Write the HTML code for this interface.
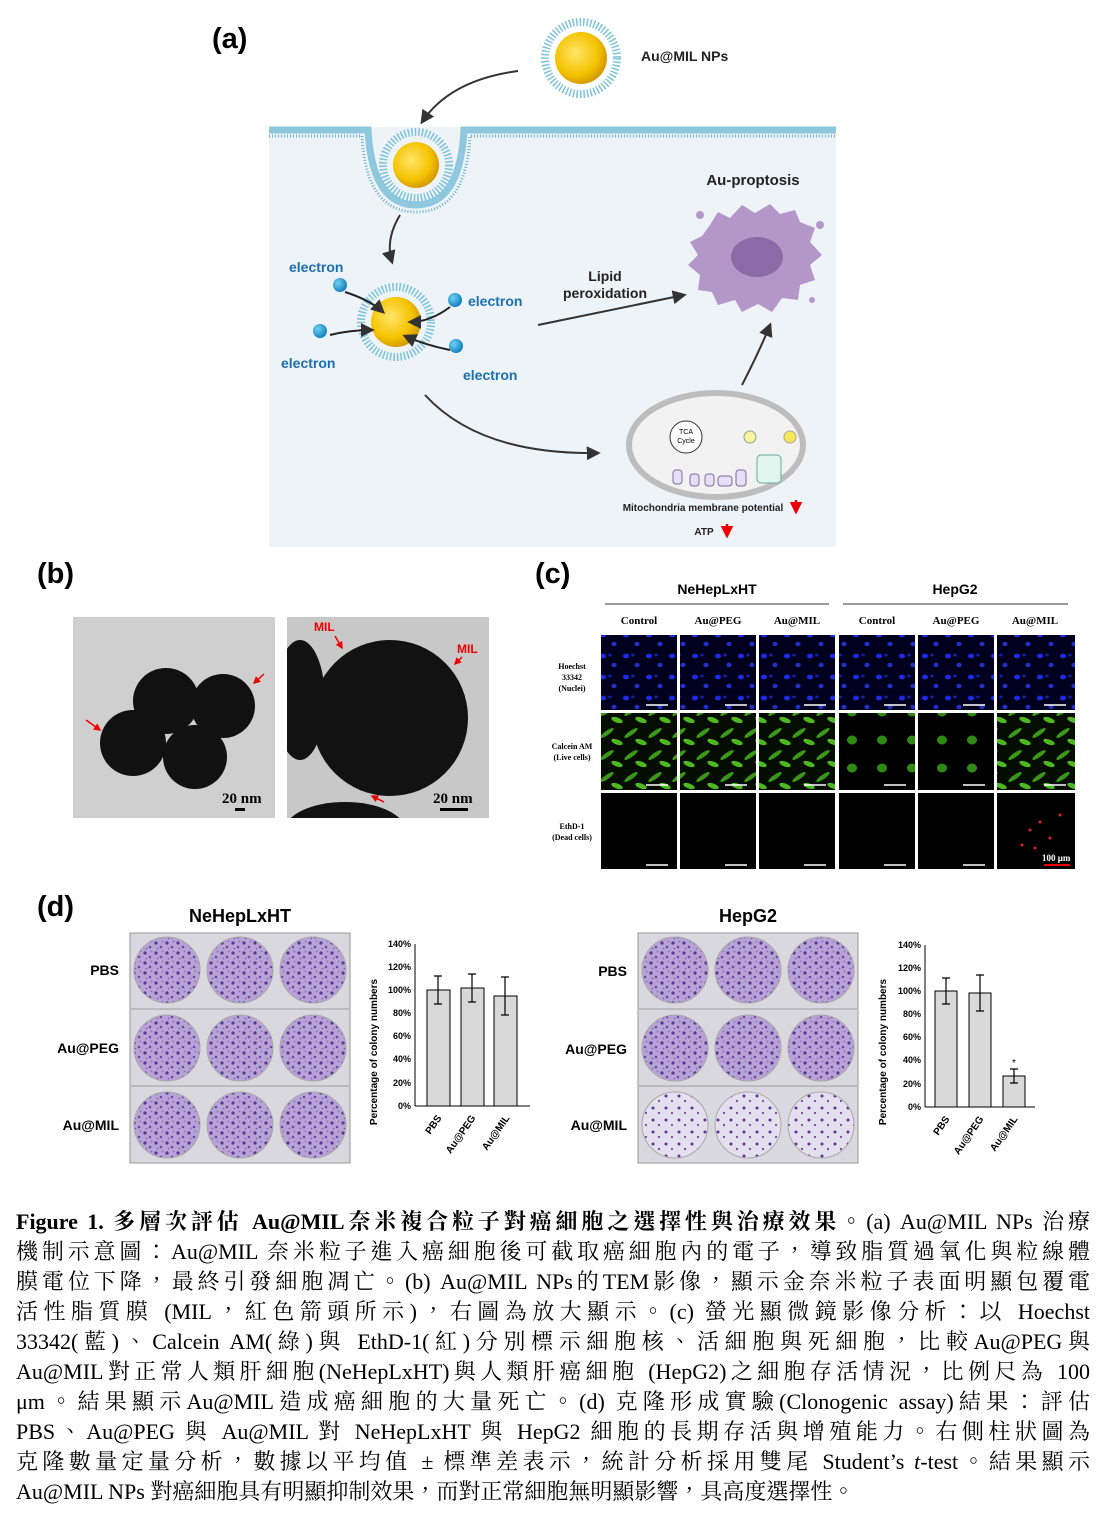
<!DOCTYPE html>
<html><head><meta charset="utf-8">
<style>
html,body{margin:0;padding:0;background:#fff;}
svg{display:block;}
.b{font-family:"Liberation Sans",sans-serif;font-weight:bold;}
.s{font-family:"Liberation Serif","Noto Serif CJK TC",serif;}
#cap{position:absolute;left:16px;top:1207px;width:1074px;font-family:"Liberation Serif","Noto Serif CJK TC",serif;font-size:22px;line-height:30px;color:#000;}
#cap div{text-align:justify;text-align-last:justify;white-space:nowrap;height:30px;}
#cap div.l{text-align-last:left;}
</style></head><body>
<svg width="1106" height="1522" viewBox="0 0 1106 1522" xmlns="http://www.w3.org/2000/svg">
<defs>
<radialGradient id="gold" cx="0.4" cy="0.4" r="0.6"><stop offset="0" stop-color="#ffe46a"/><stop offset="0.7" stop-color="#f5c400"/><stop offset="1" stop-color="#d79d00"/></radialGradient>
<radialGradient id="eb" cx="0.35" cy="0.35" r="0.7"><stop offset="0" stop-color="#6fd0f5"/><stop offset="1" stop-color="#0f7db8"/></radialGradient>
<pattern id="col" width="11" height="10" patternUnits="userSpaceOnUse"><rect width="11" height="10" fill="#b7a3d6"/><circle cx="2" cy="3" r="1.6" fill="#5a3791"/><circle cx="7" cy="7" r="1.3" fill="#6c48a8"/><circle cx="8.5" cy="1.5" r="0.9" fill="#8a6cc0"/><circle cx="3.5" cy="8.5" r="0.8" fill="#7a58b5"/></pattern>
<pattern id="col2" width="13" height="12" patternUnits="userSpaceOnUse"><rect width="13" height="12" fill="#e3dfee"/><circle cx="3" cy="4" r="1.5" fill="#5a3791"/><circle cx="9" cy="9" r="1.1" fill="#6c48a8"/></pattern>
<pattern id="blue" width="23" height="21" patternUnits="userSpaceOnUse"><rect width="23" height="21" fill="#00001e"/><ellipse cx="5" cy="5" rx="3" ry="2.4" fill="#1a2ce8"/><ellipse cx="16" cy="14" rx="2.6" ry="2.2" fill="#2030c8"/><ellipse cx="12" cy="4" rx="1.8" ry="1.5" fill="#1420a0"/></pattern>
<pattern id="green" width="24" height="22" patternUnits="userSpaceOnUse"><rect width="24" height="22" fill="#050c02"/><ellipse cx="7" cy="7" rx="8" ry="2.2" fill="#3a9a18" transform="rotate(-35 7 7)"/><ellipse cx="17" cy="16" rx="6" ry="2.5" fill="#4eb822" transform="rotate(20 17 16)"/></pattern>
<pattern id="green2" width="30" height="28" patternUnits="userSpaceOnUse"><rect width="30" height="28" fill="#000"/><ellipse cx="12" cy="12" rx="5" ry="4.5" fill="#2f8a12"/></pattern>
<clipPath id="tc"><rect x="287" y="617" width="202" height="201"/></clipPath>
<marker id="ar" viewBox="0 0 10 10" refX="8" refY="5" markerWidth="7" markerHeight="7" orient="auto"><path d="M0,0L10,5L0,10z" fill="#333"/></marker>
<marker id="rr" viewBox="0 0 10 10" refX="8" refY="5" markerWidth="5" markerHeight="5" orient="auto"><path d="M0,0L10,5L0,10z" fill="#e00"/></marker>
</defs>

<text x="212" y="48" class="b" font-size="29">(a)</text>
<circle cx="581" cy="58" r="36" fill="none" stroke="#7cc3db" stroke-width="8" stroke-dasharray="1.5 2"/>
<circle cx="581" cy="58" r="26" fill="url(#gold)"/>
<text x="641" y="61" class="b" font-size="14" fill="#222">Au@MIL NPs</text>
<path d="M518,71 Q450,80 422,122" fill="none" stroke="#333" stroke-width="2" marker-end="url(#ar)"/>
<rect x="269" y="127" width="567" height="420" fill="#eef3f7"/>
<path d="M269,130 L368,130 Q372,205 416,205 Q460,205 464,130 L836,130" fill="none" stroke="#8fc7df" stroke-width="7"/>
<path d="M269,136 L362,136 Q366,212 416,212 Q466,212 470,136 L836,136" fill="none" stroke="#6ab2d0" stroke-width="3" stroke-dasharray="1 2"/>
<circle cx="416" cy="165" r="33" fill="none" stroke="#7cc3db" stroke-width="8" stroke-dasharray="1.5 2"/>
<circle cx="416" cy="165" r="23" fill="url(#gold)"/>
<path d="M400,215 Q385,240 392,262" fill="none" stroke="#333" stroke-width="2" marker-end="url(#ar)"/>
<circle cx="396" cy="322" r="35" fill="none" stroke="#7cc3db" stroke-width="8" stroke-dasharray="1.5 2"/>
<circle cx="396" cy="322" r="25" fill="url(#gold)"/>
<circle cx="340" cy="285" r="7" fill="url(#eb)"/><circle cx="455" cy="300" r="7" fill="url(#eb)"/>
<circle cx="320" cy="331" r="7" fill="url(#eb)"/><circle cx="456" cy="346" r="7" fill="url(#eb)"/>
<path d="M345,292 Q370,300 383,312" fill="none" stroke="#222" stroke-width="2" marker-end="url(#ar)"/>
<path d="M450,307 Q430,322 410,322" fill="none" stroke="#222" stroke-width="2" marker-end="url(#ar)"/>
<path d="M450,350 Q425,345 405,336" fill="none" stroke="#222" stroke-width="2" marker-end="url(#ar)"/>
<path d="M330,335 Q350,330 372,330" fill="none" stroke="#222" stroke-width="2" marker-end="url(#ar)"/>
<g class="b" font-size="14" fill="#1a6fb0">
<text x="289" y="272">electron</text><text x="468" y="306">electron</text>
<text x="281" y="368">electron</text><text x="463" y="380">electron</text></g>
<text x="605" y="281" class="b" font-size="14" text-anchor="middle" fill="#222">Lipid</text>
<text x="605" y="298" class="b" font-size="14" text-anchor="middle" fill="#222">peroxidation</text>
<path d="M538,325 Q610,310 684,295" fill="none" stroke="#333" stroke-width="2" marker-end="url(#ar)"/>
<text x="753" y="185" class="b" font-size="15" text-anchor="middle" fill="#222">Au-proptosis</text>
<path d="M710,225 L718,212 L730,218 L742,205 L755,213 L770,204 L780,214 L795,210 L800,222 L815,228 L810,242 L822,255 L810,265 L815,280 L800,285 L798,300 L782,298 L772,312 L758,304 L742,312 L735,300 L718,305 L712,292 L698,290 L700,275 L688,265 L698,255 L690,242 L702,236z" fill="#b497c9"/>
<ellipse cx="757" cy="257" rx="26" ry="20" fill="#8c6aa8"/>
<circle cx="700" cy="215" r="4" fill="#b497c9"/><circle cx="820" cy="225" r="4" fill="#b497c9"/><circle cx="812" cy="300" r="3" fill="#b497c9"/>
<path d="M742,385 Q760,350 770,325" fill="none" stroke="#333" stroke-width="2" marker-end="url(#ar)"/>
<path d="M425,395 Q480,455 598,453" fill="none" stroke="#333" stroke-width="2" marker-end="url(#ar)"/>
<ellipse cx="716" cy="445" rx="87" ry="52" fill="#f2f2f2" stroke="#bdbdbd" stroke-width="6"/>
<circle cx="686" cy="437" r="16" fill="#fff" stroke="#333"/><text x="686" y="434" font-size="7" text-anchor="middle" font-family="Liberation Sans">TCA</text><text x="686" y="443" font-size="7" text-anchor="middle" font-family="Liberation Sans">Cycle</text>
<circle cx="750" cy="437" r="6" fill="#f7f3a0" stroke="#8a8"/><circle cx="790" cy="437" r="6" fill="#f7e65a" stroke="#aa8"/>
<rect x="757" y="455" width="24" height="28" rx="4" fill="#dff5ee" stroke="#6a9"/>
<g fill="#e6dff5" stroke="#7a6aa0"><rect x="673" y="470" width="9" height="14" rx="3"/><rect x="690" y="474" width="9" height="12" rx="3"/><rect x="705" y="474" width="9" height="12" rx="3"/><rect x="718" y="476" width="14" height="10" rx="3"/><rect x="736" y="470" width="10" height="16" rx="3"/></g>
<text x="703" y="511" class="b" font-size="10" text-anchor="middle" fill="#222">Mitochondria membrane potential</text>
<path d="M796,500 L796,512" stroke="#e00" stroke-width="2.5" marker-end="url(#rr)"/>
<text x="704" y="535" class="b" font-size="10" text-anchor="middle" fill="#222">ATP</text>
<path d="M727,524 L727,536" stroke="#e00" stroke-width="2.5" marker-end="url(#rr)"/>

<text x="37" y="583" class="b" font-size="29">(b)</text>
<rect x="73" y="617" width="202" height="201" fill="#cfcfcf"/>
<g fill="#111"><circle cx="166" cy="701" r="33"/><circle cx="223" cy="706" r="32"/><circle cx="133" cy="743" r="33"/><circle cx="195" cy="757" r="32"/></g>
<path d="M86,720 L100,730" stroke="#e00" stroke-width="1.5" marker-end="url(#rr)"/>
<path d="M264,674 L254,683" stroke="#e00" stroke-width="1.5" marker-end="url(#rr)"/>
<text x="222" y="803" class="s" font-weight="bold" font-size="15">20 nm</text><rect x="235" y="808" width="10" height="3"/>
<g clip-path="url(#tc)">
<rect x="287" y="617" width="202" height="201" fill="#c8c8c8"/>
<circle cx="390" cy="718" r="78" fill="#121212"/>
<ellipse cx="300" cy="700" rx="25" ry="60" fill="#121212"/>
<ellipse cx="345" cy="830" rx="60" ry="28" fill="#121212"/>
</g>
<text x="314" y="631" class="b" font-size="12" fill="#e00">MIL</text><text x="457" y="653" class="b" font-size="12" fill="#e00">MIL</text>
<path d="M335,636 L342,648" stroke="#e00" stroke-width="1.5" marker-end="url(#rr)"/>
<path d="M462,657 L455,664" stroke="#e00" stroke-width="1.5" marker-end="url(#rr)"/>
<path d="M384,802 L372,796" stroke="#e00" stroke-width="1.5" marker-end="url(#rr)"/>
<text x="433" y="803" class="s" font-weight="bold" font-size="15" fill="#000">20 nm</text><rect x="440" y="808" width="28" height="3"/>

<text x="535" y="583" class="b" font-size="29">(c)</text>
<text x="717" y="594" class="b" font-size="14" text-anchor="middle">NeHepLxHT</text>
<text x="955" y="594" class="b" font-size="14" text-anchor="middle">HepG2</text>
<line x1="605" y1="604" x2="829" y2="604" stroke="#999" stroke-width="2"/>
<line x1="843" y1="604" x2="1068" y2="604" stroke="#999" stroke-width="2"/>
<g class="s" font-weight="bold" font-size="11" text-anchor="middle">
<text x="639" y="624">Control</text><text x="718" y="624">Au@PEG</text><text x="797" y="624">Au@MIL</text>
<text x="877" y="624">Control</text><text x="956" y="624">Au@PEG</text><text x="1035" y="624">Au@MIL</text></g>
<g class="s" font-weight="bold" font-size="8" text-anchor="middle">
<text x="572" y="669">Hoechst</text><text x="572" y="680">33342</text><text x="572" y="691">(Nuclei)</text>
<text x="572" y="749">Calcein AM</text><text x="572" y="760">(Live cells)</text>
<text x="572" y="829">EthD-1</text><text x="572" y="840">(Dead cells)</text></g>
<g>
<rect x="601" y="635" width="76" height="75" fill="url(#blue)"/><rect x="680" y="635" width="76" height="75" fill="url(#blue)"/><rect x="759" y="635" width="76" height="75" fill="url(#blue)"/>
<rect x="839" y="635" width="76" height="75" fill="url(#blue)"/><rect x="918" y="635" width="76" height="75" fill="url(#blue)"/><rect x="997" y="635" width="78" height="75" fill="url(#blue)"/>
<rect x="601" y="713" width="76" height="77" fill="url(#green)"/><rect x="680" y="713" width="76" height="77" fill="url(#green)"/><rect x="759" y="713" width="76" height="77" fill="url(#green)"/>
<rect x="839" y="713" width="76" height="77" fill="url(#green2)"/><rect x="918" y="713" width="76" height="77" fill="url(#green2)"/><rect x="997" y="713" width="78" height="77" fill="url(#green)"/>
<rect x="601" y="793" width="76" height="76" fill="#000"/><rect x="680" y="793" width="76" height="76" fill="#000"/><rect x="759" y="793" width="76" height="76" fill="#000"/>
<rect x="839" y="793" width="76" height="76" fill="#000"/><rect x="918" y="793" width="76" height="76" fill="#000"/><rect x="997" y="793" width="78" height="76" fill="#000"/>
</g>
<g fill="#e02020"><circle cx="1030" cy="830" r="1.5"/><circle cx="1040" cy="822" r="1.5"/><circle cx="1050" cy="838" r="1.5"/><circle cx="1022" cy="845" r="1.5"/><circle cx="1060" cy="815" r="1.5"/><circle cx="1035" cy="848" r="1.5"/></g>
<g stroke="#fff" stroke-width="1.5">
<line x1="646" y1="705" x2="668" y2="705"/><line x1="725" y1="705" x2="747" y2="705"/><line x1="804" y1="705" x2="826" y2="705"/><line x1="884" y1="705" x2="906" y2="705"/><line x1="963" y1="705" x2="985" y2="705"/><line x1="1044" y1="705" x2="1066" y2="705"/>
<line x1="646" y1="785" x2="668" y2="785"/><line x1="725" y1="785" x2="747" y2="785"/><line x1="804" y1="785" x2="826" y2="785"/><line x1="884" y1="785" x2="906" y2="785"/><line x1="963" y1="785" x2="985" y2="785"/><line x1="1044" y1="785" x2="1066" y2="785"/>
<line x1="646" y1="865" x2="668" y2="865"/><line x1="725" y1="865" x2="747" y2="865"/><line x1="804" y1="865" x2="826" y2="865"/><line x1="884" y1="865" x2="906" y2="865"/><line x1="963" y1="865" x2="985" y2="865"/></g>
<text x="1042" y="861" class="s" font-weight="bold" font-size="9" fill="#fff">100 μm</text>
<line x1="1044" y1="865" x2="1070" y2="865" stroke="#e00" stroke-width="2"/>

<text x="37" y="916" class="b" font-size="29">(d)</text>
<text x="240" y="922" class="b" font-size="18" text-anchor="middle">NeHepLxHT</text>
<text x="748" y="922" class="b" font-size="18" text-anchor="middle">HepG2</text>
<g class="b" font-size="14" text-anchor="end"><text x="119" y="975">PBS</text><text x="119" y="1053">Au@PEG</text><text x="119" y="1130">Au@MIL</text>
<text x="627" y="976">PBS</text><text x="627" y="1054">Au@PEG</text><text x="627" y="1130">Au@MIL</text></g>
<rect x="130" y="933" width="220" height="230" fill="#d8d8de" stroke="#999"/>
<rect x="638" y="933" width="220" height="230" fill="#d8d8de" stroke="#999"/>
<g stroke="#bbb" stroke-width="2">
<line x1="130" y1="1009" x2="350" y2="1009"/><line x1="130" y1="1086" x2="350" y2="1086"/>
<line x1="638" y1="1009" x2="858" y2="1009"/><line x1="638" y1="1086" x2="858" y2="1086"/></g>
<g fill="url(#col)" stroke="#aaa">
<circle cx="167" cy="970" r="33"/><circle cx="240" cy="970" r="33"/><circle cx="313" cy="970" r="33"/>
<circle cx="167" cy="1048" r="33"/><circle cx="240" cy="1048" r="33"/><circle cx="313" cy="1048" r="33"/>
<circle cx="167" cy="1125" r="33"/><circle cx="240" cy="1125" r="33"/><circle cx="313" cy="1125" r="33"/>
<circle cx="675" cy="970" r="33"/><circle cx="748" cy="970" r="33"/><circle cx="821" cy="970" r="33"/>
<circle cx="675" cy="1048" r="33"/><circle cx="748" cy="1048" r="33"/><circle cx="821" cy="1048" r="33"/></g>
<g fill="url(#col2)" stroke="#aaa"><circle cx="675" cy="1125" r="33"/><circle cx="748" cy="1125" r="33"/><circle cx="821" cy="1125" r="33"/></g>

<g font-family="Liberation Sans" font-weight="bold" font-size="9" text-anchor="end">
<text x="411" y="947">140%</text><text x="411" y="970">120%</text><text x="411" y="993">100%</text><text x="411" y="1016">80%</text><text x="411" y="1039">60%</text><text x="411" y="1062">40%</text><text x="411" y="1086">20%</text><text x="411" y="1109">0%</text>
<text x="921" y="948">140%</text><text x="921" y="971">120%</text><text x="921" y="994">100%</text><text x="921" y="1017">80%</text><text x="921" y="1040">60%</text><text x="921" y="1063">40%</text><text x="921" y="1087">20%</text><text x="921" y="1110">0%</text></g>
<text transform="translate(377,1052) rotate(-90)" font-family="Liberation Sans" font-weight="bold" font-size="10" text-anchor="middle">Percentage of colony numbers</text>
<text transform="translate(886,1052) rotate(-90)" font-family="Liberation Sans" font-weight="bold" font-size="10" text-anchor="middle">Percentage of colony numbers</text>
<line x1="415" y1="944" x2="415" y2="1106" stroke="#000"/><line x1="415" y1="1106" x2="530" y2="1106" stroke="#000"/>
<line x1="925" y1="945" x2="925" y2="1107" stroke="#000"/><line x1="925" y1="1107" x2="1035" y2="1107" stroke="#000"/>
<g fill="#d9d9d9" stroke="#000">
<rect x="427" y="990" width="23" height="116"/><rect x="461" y="988" width="23" height="118"/><rect x="494" y="996" width="23" height="110"/>
<rect x="935" y="991" width="22" height="116"/><rect x="969" y="993" width="22" height="114"/><rect x="1003" y="1076" width="22" height="31"/></g>
<g stroke="#000" stroke-width="1.2">
<path d="M438,976V1004M434,976h8M434,1004h8"/><path d="M472,974V1002M468,974h8M468,1002h8"/><path d="M505,977V1015M501,977h8M501,1015h8"/>
<path d="M946,978V1004M942,978h8M942,1004h8"/><path d="M980,975V1011M976,975h8M976,1011h8"/><path d="M1014,1069V1083M1010,1069h8M1010,1083h8"/></g>
<text x="1014" y="1066" font-size="10" text-anchor="middle" font-family="Liberation Sans">*</text>
<g font-family="Liberation Sans" font-weight="bold" font-size="10" text-anchor="end">
<text transform="translate(442,1118) rotate(-55)">PBS</text><text transform="translate(476,1118) rotate(-55)">Au@PEG</text><text transform="translate(510,1118) rotate(-55)">Au@MIL</text>
<text transform="translate(950,1119) rotate(-55)">PBS</text><text transform="translate(984,1119) rotate(-55)">Au@PEG</text><text transform="translate(1018,1119) rotate(-55)">Au@MIL</text></g>
</svg>
<div id="cap">
<div><b>Figure 1. 多層次評估 Au@MIL奈米複合粒子對癌細胞之選擇性與治療效果。</b>(a) Au@MIL NPs 治療</div>
<div>機制示意圖：Au@MIL 奈米粒子進入癌細胞後可截取癌細胞內的電子，導致脂質過氧化與粒線體</div>
<div>膜電位下降，最終引發細胞凋亡。(b) Au@MIL NPs的TEM影像，顯示金奈米粒子表面明顯包覆電</div>
<div>活性脂質膜 (MIL，紅色箭頭所示)，右圖為放大顯示。(c) 螢光顯微鏡影像分析：以 Hoechst</div>
<div>33342(藍)、Calcein AM(綠)與 EthD-1(紅)分別標示細胞核、活細胞與死細胞，比較Au@PEG與</div>
<div>Au@MIL對正常人類肝細胞(NeHepLxHT)與人類肝癌細胞 (HepG2)之細胞存活情況，比例尺為 100</div>
<div>μm。結果顯示Au@MIL造成癌細胞的大量死亡。(d) 克隆形成實驗(Clonogenic assay)結果：評估</div>
<div>PBS、Au@PEG 與 Au@MIL 對 NeHepLxHT 與 HepG2 細胞的長期存活與增殖能力。右側柱狀圖為</div>
<div>克隆數量定量分析，數據以平均值 ± 標準差表示，統計分析採用雙尾 Student’s <i>t</i>-test。結果顯示</div>
<div class="l">Au@MIL NPs 對癌細胞具有明顯抑制效果，而對正常細胞無明顯影響，具高度選擇性。</div>
</div>
</body></html>
